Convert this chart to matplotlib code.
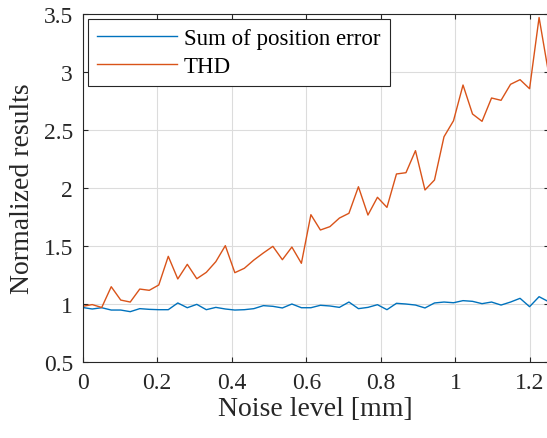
import numpy as np
import matplotlib
matplotlib.use('Agg')
from matplotlib import pyplot as plt
from matplotlib.ticker import FormatStrFormatter

# noise levels (50 points, 0 .. 1.25 mm)
noise_level = np.linspace(0, 1.25, 50)

pos_error = [0.97, 0.957, 0.968, 0.948, 0.948, 0.934, 0.96, 0.954, 0.951, 0.951,
             1.009, 0.968, 0.997, 0.951, 0.971, 0.957, 0.948, 0.951, 0.96, 0.986,
             0.98, 0.966, 1.0, 0.968, 0.968, 0.989, 0.983, 0.971, 1.017, 0.96,
             0.971, 0.994, 0.951, 1.006, 1.0, 0.991, 0.966, 1.009, 1.017, 1.011,
             1.029, 1.023, 1.003, 1.017, 0.991, 1.017, 1.049, 0.977, 1.063, 1.02]

thd = [0.98, 0.995, 0.97, 1.149, 1.034, 1.017, 1.129, 1.118, 1.164, 1.411,
       1.216, 1.342, 1.218, 1.273, 1.365, 1.503, 1.27, 1.308, 1.379, 1.44,
       1.497, 1.382, 1.491, 1.351, 1.77, 1.638, 1.667, 1.741, 1.782, 2.011,
       1.767, 1.92, 1.833, 2.121, 2.132, 2.322, 1.983, 2.069, 2.442, 2.58,
       2.888, 2.638, 2.575, 2.776, 2.756, 2.894, 2.934, 2.856, 3.47, 2.99]

x_ticks = [0, 0.2, 0.4, 0.6, 0.8, 1.0, 1.2]
y_ticks = [0.5, 1, 1.5, 2, 2.5, 3, 3.5]


def main():
    plt.rcParams['font.family'] = ['Liberation Serif', 'DejaVu Serif']
    dark = '#262626'

    fig = plt.figure(figsize=(5.47, 4.39), dpi=100)
    ax = fig.add_axes([0.1512, 0.1731, 0.8517, 0.7927])

    ax.plot(noise_level, pos_error, '-', color='#0072BD', lw=1.0,
            label='Sum of position error')
    ax.plot(noise_level, thd, '-', color='#D95319', lw=1.0, label='THD')

    ax.set_xlim(0, 1.25)
    ax.set_ylim(0.5, 3.5)
    ax.set_xticks(x_ticks)
    ax.set_yticks(y_ticks)
    ax.xaxis.set_major_formatter(FormatStrFormatter('%g'))
    ax.yaxis.set_major_formatter(FormatStrFormatter('%g'))

    ax.grid(True, color='#dcdcdc', lw=0.8)
    ax.set_axisbelow(True)
    ax.tick_params(direction='in', length=3.5, width=0.8, top=True, right=True,
                   labelsize=17, colors=dark, pad=7)
    for s in ax.spines.values():
        s.set_color(dark)
        s.set_linewidth(0.8)

    ax.set_xlabel('Noise level [mm]', fontsize=20, color=dark, labelpad=2)
    ax.set_ylabel('Normalized results', fontsize=20, color=dark, labelpad=6)

    leg = ax.legend(loc='upper left', fontsize=16.5, handlelength=3.5,
                    borderaxespad=0.22, fancybox=False, framealpha=1,
                    edgecolor=dark, borderpad=0.4, labelspacing=0.28,
                    handletextpad=0.3)
    leg.get_frame().set_linewidth(0.8)

    plt.savefig('out.png', dpi=100)


if __name__ == '__main__':
    main()
